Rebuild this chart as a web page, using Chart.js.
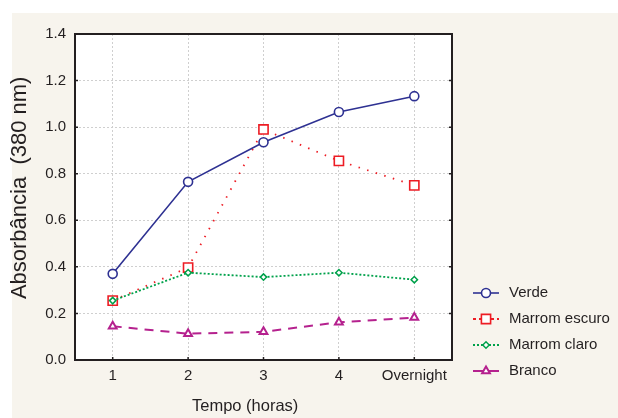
<!DOCTYPE html>
<html>
<head>
<meta charset="utf-8">
<script src="https://cdn.jsdelivr.net/npm/chart.js@4/dist/chart.umd.min.js"></script>
<style>
body{margin:0;background:#fff}
canvas{display:block}
</style>
</head>
<body>
<canvas id="absChart" width="618" height="418"></canvas>
<script>
// valores
const categorias = ['1','2','3','4','Overnight']
const verde = [0.37, 0.765, 0.935, 1.065, 1.133]
const marromEscuro = [0.255, 0.397, 0.99, 0.855, 0.75]
const marromClaro = [0.255, 0.375, 0.356, 0.375, 0.345]
const branco = [0.145, 0.113, 0.121, 0.162, 0.182]

const yMin = 0
const yMax = 1.4
const yPasso = 0.2

const fonte = "'Liberation Sans', Arial, sans-serif"
const corTexto = '#231f20'

Chart.defaults.font.family = fonte
Chart.defaults.color = corTexto

// fundo bege e área do gráfico branca
const fundo = {
id:'fundo',
beforeDraw(chart){
const ctx = chart.ctx
const a = chart.chartArea
ctx.save()
ctx.fillStyle = '#f7f4ed'
ctx.fillRect(12,13,chart.width-12,chart.height-13)
ctx.fillStyle = '#fff'
ctx.fillRect(a.left,a.top,a.right-a.left,a.bottom-a.top)
ctx.restore()
}
}

// moldura preta + tracinhos internos
const moldura = {
id:'moldura',
afterDatasetsDraw(chart){
const ctx = chart.ctx
const a = chart.chartArea
const sx = chart.scales.x
const sy = chart.scales.y
ctx.save()
ctx.strokeStyle = corTexto
ctx.lineWidth = 2
ctx.strokeRect(a.left,a.top,a.right-a.left,a.bottom-a.top)
ctx.lineWidth = 1.5
ctx.beginPath()
sy.ticks.forEach(t=>{
const py = sy.getPixelForValue(t.value)
ctx.moveTo(a.left,py); ctx.lineTo(a.left+3,py)
ctx.moveTo(a.right,py); ctx.lineTo(a.right-3,py)
})
sx.ticks.forEach((t,i)=>{
const px = sx.getPixelForTick(i)
ctx.moveTo(px,a.bottom); ctx.lineTo(px,a.bottom-3)
})
ctx.stroke()
ctx.restore()
}
}

// legenda com linha + marcador
const legenda = {
id:'legenda',
afterDraw(chart){
const ctx = chart.ctx
ctx.save()
chart.data.datasets.forEach((d,i)=>{
const yy = 293 + i*26
ctx.strokeStyle = d.borderColor
ctx.lineWidth = d.borderWidth
ctx.setLineDash(d.legendaDash)
ctx.beginPath()
ctx.moveTo(473,yy)
ctx.lineTo(499,yy)
ctx.stroke()
ctx.setLineDash([])
ctx.fillStyle = d.pointBackgroundColor
ctx.strokeStyle = d.pointBorderColor
ctx.lineWidth = d.pointBorderWidth
Chart.helpers.drawPoint(ctx,{
pointStyle:d.pointStyle,
radius:d.pointRadius,
rotation:0,
borderWidth:d.pointBorderWidth
},486,yy)
ctx.fillStyle = corTexto
ctx.font = '15px ' + fonte
ctx.textBaseline = 'middle'
ctx.textAlign = 'left'
ctx.fillText(d.label,509,yy)
})
ctx.restore()
}
}

const datasets = [
{
label:'Verde',
data:verde,
borderColor:'#2e3192',
borderWidth:1.6,
pointStyle:'circle',
pointRadius:4.5,
pointBorderWidth:1.6,
pointBorderColor:'#2e3192',
pointBackgroundColor:'#fff',
legendaDash:[],
order:1
},
{
label:'Marrom escuro',
data:marromEscuro,
borderColor:'#ed1c24',
borderWidth:1.8,
borderDash:[1.5,7.5],
pointStyle:'rect',
pointRadius:6.5,
pointBorderWidth:1.6,
pointBorderColor:'#ed1c24',
pointBackgroundColor:'#fff',
legendaDash:[3,3],
order:3
},
{
label:'Marrom claro',
data:marromClaro,
borderColor:'#00a14b',
borderWidth:1.8,
borderDash:[2,2],
pointStyle:'rectRot',
pointRadius:3.2,
pointBorderWidth:1.5,
pointBorderColor:'#00a14b',
pointBackgroundColor:'#fff',
legendaDash:[2,2],
order:2
},
{
label:'Branco',
data:branco,
borderColor:'#b5218e',
borderWidth:2,
borderDash:[9,7],
pointStyle:'triangle',
pointRadius:4.5,
pointBorderWidth:2,
pointBorderColor:'#b5218e',
pointBackgroundColor:'#fff',
legendaDash:[],
order:4
}
]

new Chart(document.getElementById('absChart'),{
type:'line',
data:{
labels:categorias,
datasets:datasets
},
options:{
responsive:false,
animation:false,
events:[],
layout:{
padding:{top:34,right:166,left:0,bottom:0}
},
elements:{
line:{tension:0}
},
plugins:{
legend:{display:false},
tooltip:{enabled:false}
},
scales:{
x:{
type:'category',
offset:true,
afterFit:s=>{s.height = 58},
grid:{color:'#cfcfcf',lineWidth:1,drawTicks:false},
border:{display:false,dash:[2,2]},
ticks:{padding:7,font:{size:15},color:corTexto},
title:{
display:true,
text:'Tempo (horas)        ',
font:{size:16.5},
color:corTexto,
padding:{top:0,bottom:2}
}
},
y:{
min:yMin,
max:yMax,
afterFit:s=>{s.width = 75},
grid:{color:'#cfcfcf',lineWidth:1,drawTicks:false},
border:{display:false,dash:[2,2]},
ticks:{
stepSize:yPasso,
padding:9,
font:{size:15},
color:corTexto,
callback:v=>v.toFixed(1)
},
title:{
display:true,
text:'   Absorbância  (380 nm)',
font:{size:22},
color:corTexto,
padding:{top:7,bottom:0}
}
}
}
},
plugins:[fundo,moldura,legenda]
})
</script>
</body>
</html>
